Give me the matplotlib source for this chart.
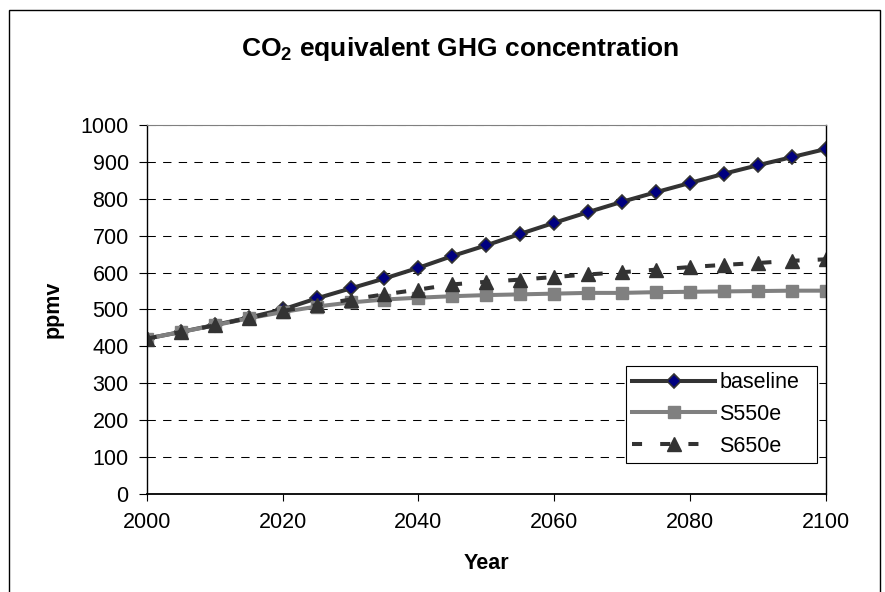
import matplotlib
matplotlib.use("Agg")
import matplotlib.pyplot as plt
from matplotlib.patches import Rectangle

plt.rcParams['font.family'] = ['Liberation Sans', 'DejaVu Sans']

# data
years = [2000, 2005, 2010, 2015, 2020, 2025, 2030, 2035, 2040, 2045, 2050,
         2055, 2060, 2065, 2070, 2075, 2080, 2085, 2090, 2095, 2100]
baseline = [421, 439, 458, 478, 500, 530, 557, 584, 613, 645, 674,
            705, 735, 764, 792, 818, 843, 868, 891, 913, 935]
s550e = [421, 439, 457, 476, 493, 508, 519, 527, 532, 536, 539,
         541, 543, 545, 545, 547, 548, 549, 550, 551, 551]
s650e = [421, 439, 457, 477, 496, 512, 527, 541, 554, 568, 575,
         581, 588, 595, 601, 608, 615, 621, 626, 632, 636]

fig = plt.figure(figsize=(8.85, 5.92), dpi=100)
ax = fig.add_axes([0.1658, 0.1655, 0.7675, 0.6234])

# outer chart frame
fig.add_artist(Rectangle((0.0102, -0.1), 0.9842, 1.083, transform=fig.transFigure,
                         fill=False, edgecolor='black', linewidth=1.0))

ax.plot(years, baseline, color='#333333', lw=2.9, marker='D', markersize=7.5,
        markerfacecolor='#000080', markeredgecolor='#333333', markeredgewidth=1.2,
        label='baseline')
ax.plot(years, s550e, color='#808080', lw=2.9, marker='s', markersize=8.5,
        markerfacecolor='#808080', markeredgecolor='#808080', label='S550e')
ax.plot(years, s650e, color='#333333', lw=2.9, linestyle=(0, (2.5, 4.5)), marker='^',
        markersize=9.5, markerfacecolor='#333333', markeredgecolor='#333333',
        label='S650e')

ax.set_xlim(2000, 2100)
ax.set_ylim(0, 1000)
ax.set_xticks([2000, 2020, 2040, 2060, 2080, 2100])
ax.set_yticks(range(0, 1001, 100))
ax.tick_params(direction='out', width=0.8, labelsize=15.5)
ax.tick_params(axis='x', length=5, pad=8)
ax.tick_params(axis='y', length=6, pad=7)
ax.yaxis.grid(True, color='black', linestyle=(0, (8, 7)), linewidth=0.75)
ax.set_axisbelow(True)

ax.spines['top'].set_color('#808080')
for s in ['left', 'right', 'bottom']:
    ax.spines[s].set_color('black')
    ax.spines[s].set_linewidth(1.0)
ax.spines['bottom'].set_linewidth(1.3)

ax.set_xlabel('Year', fontsize=15.5, fontweight='bold')
ax.set_ylabel('ppmv', fontsize=15.5, fontweight='bold')
ax.xaxis.set_label_coords(0.5, -0.16)
ax.yaxis.set_label_coords(-0.123, 0.5)

fig.text(0.52, 0.918, r'CO$_\mathregular{2}$ equivalent GHG concentration',
         ha='center', va='center', fontsize=19, fontweight='bold')

leg = ax.legend(loc='lower left', bbox_to_anchor=(0.7051, 0.084, 0.2817, 0.27),
                mode='expand', fontsize=15.5,
                frameon=True, fancybox=False, edgecolor='black', framealpha=1,
                handlelength=3.85, handletextpad=0.2, borderpad=0.3,
                labelspacing=0.5, borderaxespad=0)
leg.get_frame().set_linewidth(0.8)

fig.savefig('out.png', dpi=100)
